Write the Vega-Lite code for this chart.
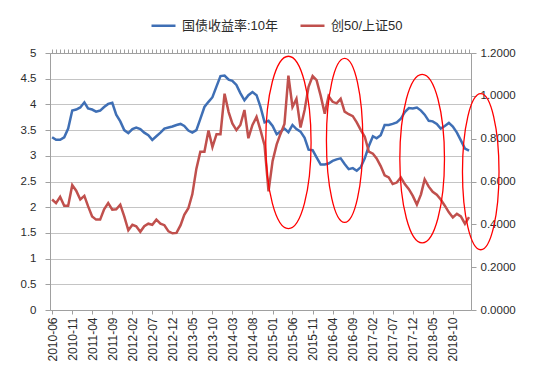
{
"$schema":"https://vega.github.io/schema/vega-lite/v6.json",
"width":421,"height":257,
"autosize":{"type":"none"},
"padding":{"left":50,"top":53,"right":65,"bottom":67},
"background":"white",
"config":{"view":{"stroke":null},"axis":{"labelFont":"Liberation Sans","labelColor":"#2b2b2b","domainColor":"#a0a0a0","tickColor":"#a0a0a0","gridColor":"#c4c4c4","labelFontSize":11.5}},
"data":{"values":[
{"d":"2010/06/01","bond":3.36,"ratio":0.516},{"d":"2010/07/01","bond":3.31,"ratio":0.499},{"d":"2010/08/01","bond":3.31,"ratio":0.528},{"d":"2010/09/01","bond":3.36,"ratio":0.487},{"d":"2010/10/01","bond":3.53,"ratio":0.487},{"d":"2010/11/01","bond":3.88,"ratio":0.583},{"d":"2010/12/01","bond":3.90,"ratio":0.557},
{"d":"2011/01/01","bond":3.94,"ratio":0.516},{"d":"2011/02/01","bond":4.04,"ratio":0.533},{"d":"2011/03/01","bond":3.92,"ratio":0.485},{"d":"2011/04/01","bond":3.90,"ratio":0.437},{"d":"2011/05/01","bond":3.86,"ratio":0.422},{"d":"2011/06/01","bond":3.88,"ratio":0.422},{"d":"2011/07/01","bond":3.95,"ratio":0.470},{"d":"2011/08/01","bond":4.01,"ratio":0.499},{"d":"2011/09/01","bond":4.03,"ratio":0.468},{"d":"2011/10/01","bond":3.80,"ratio":0.470},{"d":"2011/11/01","bond":3.67,"ratio":0.492},{"d":"2011/12/01","bond":3.50,"ratio":0.437},
{"d":"2012/01/01","bond":3.44,"ratio":0.372},{"d":"2012/02/01","bond":3.52,"ratio":0.398},{"d":"2012/03/01","bond":3.55,"ratio":0.391},{"d":"2012/04/01","bond":3.52,"ratio":0.365},{"d":"2012/05/01","bond":3.45,"ratio":0.391},{"d":"2012/06/01","bond":3.40,"ratio":0.403},{"d":"2012/07/01","bond":3.31,"ratio":0.398},{"d":"2012/08/01","bond":3.38,"ratio":0.422},{"d":"2012/09/01","bond":3.45,"ratio":0.403},{"d":"2012/10/01","bond":3.53,"ratio":0.396},{"d":"2012/11/01","bond":3.55,"ratio":0.367},{"d":"2012/12/01","bond":3.57,"ratio":0.358},
{"d":"2013/01/01","bond":3.60,"ratio":0.360},{"d":"2013/02/01","bond":3.62,"ratio":0.396},{"d":"2013/03/01","bond":3.58,"ratio":0.444},{"d":"2013/04/01","bond":3.49,"ratio":0.475},{"d":"2013/05/01","bond":3.45,"ratio":0.540},{"d":"2013/06/01","bond":3.50,"ratio":0.660},{"d":"2013/07/01","bond":3.72,"ratio":0.739},{"d":"2013/08/01","bond":3.95,"ratio":0.739},{"d":"2013/09/01","bond":4.05,"ratio":0.838},{"d":"2013/10/01","bond":4.14,"ratio":0.761},{"d":"2013/11/01","bond":4.35,"ratio":0.821},{"d":"2013/12/01","bond":4.55,"ratio":0.821},
{"d":"2014/01/01","bond":4.56,"ratio":1.010},{"d":"2014/02/01","bond":4.48,"ratio":0.924},{"d":"2014/03/01","bond":4.46,"ratio":0.871},{"d":"2014/04/01","bond":4.38,"ratio":0.840},{"d":"2014/05/01","bond":4.22,"ratio":0.864},{"d":"2014/06/01","bond":4.08,"ratio":0.934},{"d":"2014/07/01","bond":4.18,"ratio":0.802},{"d":"2014/08/01","bond":4.24,"ratio":0.864},{"d":"2014/09/01","bond":4.18,"ratio":0.902},{"d":"2014/10/01","bond":3.95,"ratio":0.840},{"d":"2014/11/01","bond":3.65,"ratio":0.768},{"d":"2014/12/01","bond":3.68,"ratio":0.554},
{"d":"2015/01/01","bond":3.58,"ratio":0.696},{"d":"2015/02/01","bond":3.42,"ratio":0.773},{"d":"2015/03/01","bond":3.47,"ratio":0.821},{"d":"2015/04/01","bond":3.53,"ratio":0.869},{"d":"2015/05/01","bond":3.46,"ratio":1.094},{"d":"2015/06/01","bond":3.60,"ratio":0.948},{"d":"2015/07/01","bond":3.52,"ratio":0.986},{"d":"2015/08/01","bond":3.47,"ratio":0.852},{"d":"2015/09/01","bond":3.35,"ratio":0.934},{"d":"2015/10/01","bond":3.12,"ratio":1.042},{"d":"2015/11/01","bond":3.11,"ratio":1.092},{"d":"2015/12/01","bond":2.97,"ratio":1.073},
{"d":"2016/01/01","bond":2.83,"ratio":1.001},{"d":"2016/02/01","bond":2.83,"ratio":0.917},{"d":"2016/03/01","bond":2.85,"ratio":0.998},{"d":"2016/04/01","bond":2.90,"ratio":0.972},{"d":"2016/05/01","bond":2.93,"ratio":0.965},{"d":"2016/06/01","bond":2.95,"ratio":0.986},{"d":"2016/07/01","bond":2.84,"ratio":0.926},{"d":"2016/08/01","bond":2.74,"ratio":0.914},{"d":"2016/09/01","bond":2.76,"ratio":0.905},{"d":"2016/10/01","bond":2.71,"ratio":0.876},{"d":"2016/11/01","bond":2.78,"ratio":0.840},{"d":"2016/12/01","bond":2.95,"ratio":0.809},
{"d":"2017/01/01","bond":3.19,"ratio":0.739},{"d":"2017/02/01","bond":3.38,"ratio":0.730},{"d":"2017/03/01","bond":3.34,"ratio":0.708},{"d":"2017/04/01","bond":3.40,"ratio":0.672},{"d":"2017/05/01","bond":3.60,"ratio":0.629},{"d":"2017/06/01","bond":3.60,"ratio":0.619},{"d":"2017/07/01","bond":3.62,"ratio":0.588},{"d":"2017/08/01","bond":3.65,"ratio":0.595},{"d":"2017/09/01","bond":3.72,"ratio":0.619},{"d":"2017/10/01","bond":3.85,"ratio":0.588},{"d":"2017/11/01","bond":3.93,"ratio":0.564},{"d":"2017/12/01","bond":3.92,"ratio":0.533},
{"d":"2018/01/01","bond":3.94,"ratio":0.492},{"d":"2018/02/01","bond":3.88,"ratio":0.540},{"d":"2018/03/01","bond":3.80,"ratio":0.610},{"d":"2018/04/01","bond":3.68,"ratio":0.576},{"d":"2018/05/01","bond":3.67,"ratio":0.552},{"d":"2018/06/01","bond":3.62,"ratio":0.538},{"d":"2018/07/01","bond":3.53,"ratio":0.516},{"d":"2018/08/01","bond":3.58,"ratio":0.487},{"d":"2018/09/01","bond":3.64,"ratio":0.456},{"d":"2018/10/01","bond":3.57,"ratio":0.432},{"d":"2018/11/01","bond":3.45,"ratio":0.449},{"d":"2018/12/01","bond":3.30,"ratio":0.437},
{"d":"2019/01/01","bond":3.14,"ratio":0.403},{"d":"2019/02/01","bond":3.10,"ratio":0.434}
]},
"layer":[
{"mark":{"type":"line","strokeWidth":2.5},
 "encoding":{
  "x":{"field":"d","type":"temporal","scale":{"domain":[{"year":2010,"month":5,"date":16},{"year":2019,"month":2,"date":16}]},
   "axis":{"title":null,"values":[
    {"year":2010,"month":6,"date":1},{"year":2010,"month":11,"date":1},{"year":2011,"month":4,"date":1},{"year":2011,"month":9,"date":1},
    {"year":2012,"month":2,"date":1},{"year":2012,"month":7,"date":1},{"year":2012,"month":12,"date":1},{"year":2013,"month":5,"date":1},
    {"year":2013,"month":10,"date":1},{"year":2014,"month":3,"date":1},{"year":2014,"month":8,"date":1},{"year":2015,"month":1,"date":1},
    {"year":2015,"month":6,"date":1},{"year":2015,"month":11,"date":1},{"year":2016,"month":4,"date":1},{"year":2016,"month":9,"date":1},
    {"year":2017,"month":2,"date":1},{"year":2017,"month":7,"date":1},{"year":2017,"month":12,"date":1},{"year":2018,"month":5,"date":1},
    {"year":2018,"month":10,"date":1}],
    "format":"%Y-%m","labelAngle":270,"labelOverlap":false,"labelBound":false,"labelFlush":false,"grid":false,"ticks":true,"tickSize":4,"domain":true,"labelPadding":3,"labelFontSize":12}},
  "y":{"field":"bond","type":"quantitative","scale":{"domain":[0,5]},"axis":{"title":null,"orient":"left","values":[0,0.5,1,1.5,2,2.5,3,3.5,4,4.5,5],"format":"~g","grid":true,"tickSize":5,"labelPadding":9}},
  "color":{"datum":"国债收益率:10年","type":"nominal","scale":{"domain":["国债收益率:10年","创50/上证50"],"range":["#3f6fb5","#c0504d"]},
   "legend":{"orient":"none","legendX":100,"legendY":-41,"direction":"horizontal","title":null,"symbolType":"stroke","symbolStrokeWidth":2.5,"symbolSize":576,"labelFontSize":13,"labelFont":"Liberation Sans, Noto Sans CJK SC","labelColor":"#2b2b2b","columnPadding":16,"labelOffset":5}}
 }},
{"mark":{"type":"line","strokeWidth":2.5},
 "encoding":{
  "x":{"field":"d","type":"temporal","axis":{"title":null,"tickCount":{"interval":"month","step":1},"labels":false,"grid":false,"ticks":true,"tickSize":4,"domain":true}},
  "y":{"field":"ratio","type":"quantitative","scale":{"domain":[0,1.2]},"axis":{"title":null,"orient":"right","values":[0,0.2,0.4,0.6,0.8,1,1.2],"format":".4f","grid":false,"tickSize":5,"labelPadding":4}},
  "color":{"datum":"创50/上证50","type":"nominal"}
 }},
{"data":{"values":[
 {"id":"e1","d":"2015/05/01","v":3.26},
 {"id":"e2","d":"2016/07/01","v":3.30},
 {"id":"e3","d":"2018/02/10","v":2.945},
 {"id":"e4","d":"2019/05/01","v":2.69}
 ]},
 "mark":{"type":"point","filled":false,"color":"#ff0000","strokeWidth":1.3,"size":29722,"opacity":1,"clip":false},
 "encoding":{
  "x":{"field":"d","type":"temporal","axis":null},
  "y":{"field":"v","type":"quantitative","scale":{"domain":[0,5]},"axis":null},
  "shape":{"field":"id","type":"nominal","legend":null,"scale":{"domain":["e1","e2","e3","e4"],"range":[
   "M 0.263 0 C 0.263 0.5523 0.1453 1 0 1 C -0.1453 1 -0.263 0.5523 -0.263 0 C -0.263 -0.5523 -0.1453 -1 0 -1 C 0.1453 -1 0.263 -0.5523 0.263 0 Z",
   "M 0.211 0 C 0.211 0.5252 0.1165 0.951 0 0.951 C -0.1165 0.951 -0.211 0.5252 -0.211 0 C -0.211 -0.5252 -0.1165 -0.951 0 -0.951 C 0.1165 -0.951 0.211 -0.5252 0.211 0 Z",
   "M 0.259 0 C 0.259 0.5401 0.143 0.978 0 0.978 C -0.143 0.978 -0.259 0.5401 -0.259 0 C -0.259 -0.5401 -0.143 -0.978 0 -0.978 C 0.143 -0.978 0.259 -0.5401 0.259 0 Z",
   "M 0.212 0 C 0.212 0.4998 0.1171 0.905 0 0.905 C -0.1171 0.905 -0.212 0.4998 -0.212 0 C -0.212 -0.4998 -0.1171 -0.905 0 -0.905 C 0.1171 -0.905 0.212 -0.4998 0.212 0 Z"
  ]}}
 }}
],
"resolve":{"scale":{"y":"independent"},"axis":{"x":"independent"}}
}
